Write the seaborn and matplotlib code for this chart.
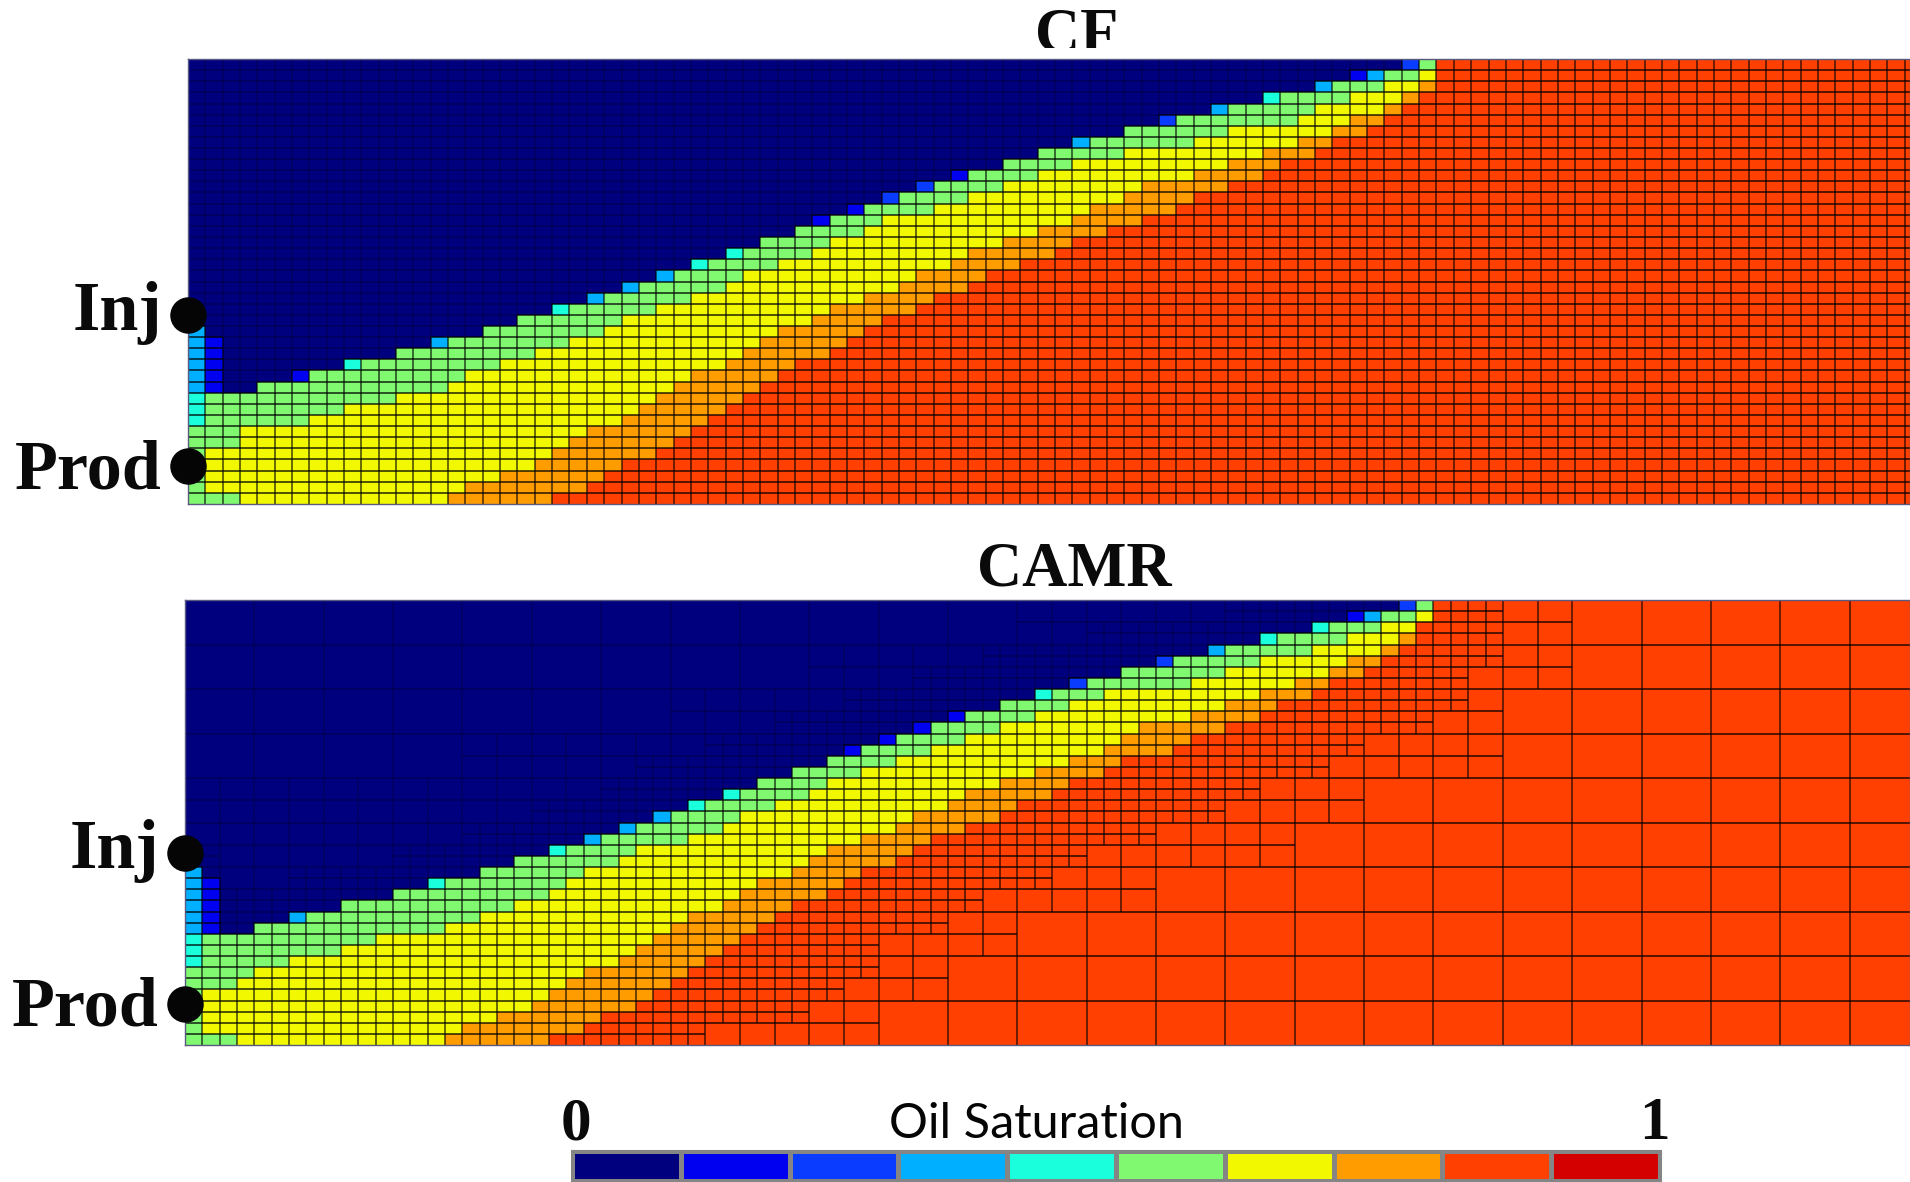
import numpy as np
import matplotlib
matplotlib.use("Agg")
import matplotlib.pyplot as plt
from matplotlib.colors import ListedColormap
from matplotlib.transforms import Bbox
import seaborn as sns

W, H = 1910, 1182
N_ROWS, N_COLS = 40, 100

LEVEL_COLORS = ["#00007F", "#0000F0", "#0A3CFF", "#00AFFF", "#1AFFDC",
                "#80F870", "#F2F800", "#FF9C00", "#FF4000", "#D40000"]

# Band tops per column (rows counted from the bottom), columns 0..71; all red beyond.
CF_GREEN = [7,10,10,10,11,11,11,12,12,12,13,13,14,14,14,15,15,16,16,17,17,17,18,18,19,19,20,20,21,21,22,22,23,24,24,25,25,26,26,27,27,28,28,29,29,30,30,31,31,32,32,32,33,33,34,34,34,35,35,35,36,36,36,37,37,37,38,38,38,39,39,40]
CF_YELLOW = [0,5,5,7,7,7,7,8,8,9,9,9,10,10,10,11,12,12,13,13,14,14,15,15,16,17,17,18,18,19,19,20,21,21,22,22,23,24,24,25,26,26,26,27,27,28,28,29,29,30,30,31,31,31,32,32,32,32,33,33,34,34,34,34,35,36,36,37,37,38,38,39]
CF_ORANGE = [0]*15 + [1,2,2,3,3,4,5,6,7,7,8,9,10,11,12,12,13,14,15,16,16,17,18,18,19,19,20,21,21,22,23,23,24,24,25,25,26,27,27,28,29,29,29,30,30,31,31,32,32,33,33,34,35,35,36,37,38]
CF_RED = [0]*21 + [1,1,2,3,4,4,5,6,7,8,9,10,11,12,13,13,14,15,16,17,17,18,19,19,20,21,21,22,22,23,24,24,25,25,26,26,27,28,28,29,29,30,31,31,32,33,33,34,35,36,37]
CF_CAPS = {6:1, 9:4, 14:3, 21:4, 23:3, 25:3, 27:3, 29:4, 31:4, 36:1, 38:1, 40:2, 42:2, 44:1,
           51:3, 56:2, 59:3, 62:4, 65:3, 67:1, 68:3, 70:2}

CAMR_GREEN = [7,10,10,10,11,11,11,12,12,13,13,13,14,14,14,15,15,16,16,17,17,17,18,18,19,19,20,20,21,21,22,22,23,24,24,25,25,26,26,27,27,28,28,29,29,30,30,31,31,31,32,32,33,33,34,34,34,35,35,35,36,36,36,37,37,37,38,38,38,39,39,40]
CAMR_YELLOW = [0,5,5,6,7,7,8,8,8,9,9,10,10,10,10,11,11,12,12,13,13,14,15,16,16,17,18,18,18,19,19,20,21,21,22,22,23,24,24,25,25,26,26,27,27,28,28,29,29,30,30,31,31,32,32,32,32,32,33,33,34,34,35,35,35,36,36,37,37,38,38,39]
CAMR_ORANGE = [0]*15 + [1,2,2,3,3,4,5,6,7,7,8,9,10,11,12,12,13,14,15,15,16,17,18,18,19,19,20,21,21,22,23,23,24,24,25,25,26,26,27,28,29,29,29,30,30,31,31,32,32,33,33,34,35,35,36,37,38]
CAMR_RED = [0]*21 + [1,1,2,3,3,4,5,6,7,8,9,10,11,12,13,13,14,15,16,16,17,18,19,19,20,20,21,22,22,23,24,24,25,26,26,26,27,28,28,29,29,30,31,31,32,33,33,34,35,36,38]
CAMR_CAPS = {6:3, 14:4, 21:4, 23:3, 25:3, 27:3, 29:4, 31:4, 38:1, 40:1, 42:1, 44:1, 49:4,
             51:2, 56:2, 59:3, 62:4, 65:4, 67:1, 68:3, 70:2}

# Cells by the wells: (column, first row, end row, level).
WELL_CELLS = [(0,7,10,4), (0,10,16,3), (1,10,15,1), (1,0,1,5), (2,0,1,5)]
CF_WELL_ROWS = {"Inj": 17.0, "Prod": 3.4}
CAMR_WELL_ROWS = {"Inj": 17.26, "Prod": 3.69}

# CAMR mesh: lowest / highest row of refinement.
MID_LO = [0]*10 + [4,8,12,12,16,16,20,24,24,32] + [40]*5
MID_HI = [24,24,24,24,28,28,28,32,32,36,36,36,40,40,40,40,40,40,40,40] + [40]*5
FINE_LO = [0]*15 + [2,2,2,4,6,10,10,12,14,14,16,18,18,20,20,22,24,24,26,28,28,30,34] + [40]*12
FINE_HI = [18,14,14,16,16,16,18,18,20,20,22,22,24,26,26,28,28,30,30,32,32,34,34,36,36,36,38,38,38,38] + [40]*20

LEGEND_LEVELS = list(range(10))
PANEL_TITLES = ["CF", "CAMR"]
LEGEND_TITLE = "Oil Saturation"
LEGEND_ENDS = ["0", "1"]

sns.set_theme(style="white")
plt.rcParams["font.family"] = ["Liberation Serif", "DejaVu Sans"]
cmap = ListedColormap(LEVEL_COLORS)
fig = plt.figure(figsize=(W / 100, H / 100), dpi=100, facecolor="white")

LABEL_DROP = {"Inj": 15, "Prod": 22}
ON_COLOUR = (0, 0, 0, 0.70)
ON_NAVY = (0, 0, 0, 0.22)


def px_axes(x0, y0, x1, y1):
    return fig.add_axes([x0 / W, 1 - y1 / H, (x1 - x0) / W, (y1 - y0) / H])


def build_field(green, yellow, orange, red, caps):
    field = np.zeros((N_ROWS, N_COLS), dtype=int)
    for col in range(N_COLS):
        if col < len(green):
            g, y, o, r = green[col], yellow[col], orange[col], red[col]
        else:
            g, y, o, r = N_ROWS, N_ROWS, N_ROWS, N_ROWS
        field[:r, col] = 8
        field[r:o, col] = 7
        field[o:y, col] = 6
        field[y:g, col] = 5
        if col in caps:
            field[g, col] = caps[col]
    for col, r0, r1, level in WELL_CELLS:
        field[r0:r1, col] = level
    return field[::-1]


def draw_panel(box, field):
    ax = px_axes(*box)
    sns.heatmap(field, ax=ax, cmap=cmap, vmin=-0.5, vmax=9.5, cbar=False,
                xticklabels=False, yticklabels=False)
    ax.set_xlim(0, (box[2] - box[0]) / 17.34)
    ax.set_ylim(N_ROWS, 0)
    for s in ax.spines.values():
        s.set_visible(True)
        s.set_color("#5a5a80")
        s.set_linewidth(1.0)
    return ax


def h_line(ax, field, i, a, b):
    """Horizontal cell border above table row i, from column a to b."""
    if i <= 0 or i >= N_ROWS:
        return
    cols = np.arange(a, b)
    navy = (field[i - 1, cols] == 0) & (field[i, cols] == 0)
    ax.hlines(np.full(len(cols), i), cols, cols + 1,
              colors=[ON_NAVY if n else ON_COLOUR for n in navy], linewidths=1.35)


def v_line(ax, field, c, r_lo, r_hi):
    """Vertical cell border at column edge c, between rows counted from the bottom."""
    if c <= 0 or c >= N_COLS:
        return
    rows = np.arange(N_ROWS - r_hi, N_ROWS - r_lo)
    navy = (field[rows, c - 1] == 0) & (field[rows, c] == 0)
    ax.vlines(np.full(len(rows), c), rows, rows + 1,
              colors=[ON_NAVY if n else ON_COLOUR for n in navy], linewidths=1.15)


def well_marks(ax, box, wells):
    for name, row in wells.items():
        ax.scatter([0], [N_ROWS - row], s=690, color="#050505", clip_on=False, zorder=6, linewidths=0)
        y_px = box[3] - row * (box[3] - box[1]) / N_ROWS
        fig.text((box[0] - 26) / W, 1 - (y_px + LABEL_DROP[name]) / H, name, ha="right", va="baseline",
                 fontsize=50.5, fontweight="bold", color="#0a0a0a")


# CF panel -----------------------------------------------------------------
cf_box = (188, 59, 1910, 504)
cf_field = build_field(CF_GREEN, CF_YELLOW, CF_ORANGE, CF_RED, CF_CAPS)
ax_cf = draw_panel(cf_box, cf_field)
for i in range(1, N_ROWS):
    h_line(ax_cf, cf_field, i, 0, N_COLS)
for c in range(1, N_COLS):
    v_line(ax_cf, cf_field, c, 0, N_ROWS)
well_marks(ax_cf, cf_box, CF_WELL_ROWS)

# CAMR panel ---------------------------------------------------------------
camr_box = (185, 600, 1910, 1045)
am_field = build_field(CAMR_GREEN, CAMR_YELLOW, CAMR_ORANGE, CAMR_RED, CAMR_CAPS)
ax_am = draw_panel(camr_box, am_field)
for r in range(4, N_ROWS, 4):
    h_line(ax_am, am_field, N_ROWS - r, 0, N_COLS)
for c in range(4, N_COLS, 4):
    v_line(ax_am, am_field, c, 0, N_ROWS)
for k, (lo, hi) in enumerate(zip(MID_LO, MID_HI)):
    if lo < hi:
        v_line(ax_am, am_field, 4 * k + 2, lo, hi)
        for r in range(2, N_ROWS, 4):
            if lo < r < hi:
                h_line(ax_am, am_field, N_ROWS - r, 4 * k, 4 * k + 4)
for j, (lo, hi) in enumerate(zip(FINE_LO, FINE_HI)):
    if lo < hi:
        v_line(ax_am, am_field, 2 * j + 1, lo, hi)
        for r in range(1, N_ROWS, 2):
            if lo < r < hi:
                h_line(ax_am, am_field, N_ROWS - r, 2 * j, 2 * j + 2)
well_marks(ax_am, camr_box, CAMR_WELL_ROWS)

# Titles --------------------------------------------------------------------
t_cf = fig.text(1077 / W, 1 - 51 / H, PANEL_TITLES[0], ha="center", va="baseline",
                fontsize=45, fontweight="bold", color="#0a0a0a")
t_cf.set_clip_box(Bbox([[0, H - 48], [W, H]]))
t_cf.set_clip_on(True)
fig.text(1074 / W, 1 - 585 / H, PANEL_TITLES[1], ha="center", va="baseline",
         fontsize=45, fontweight="bold", color="#0a0a0a")

# Legend --------------------------------------------------------------------
ax_leg = px_axes(572, 1151, 1660, 1181)
sns.heatmap(np.array([LEGEND_LEVELS]), ax=ax_leg, cmap=cmap, vmin=-0.5, vmax=9.5, cbar=False,
            xticklabels=False, yticklabels=False, linewidths=2.4, linecolor="#858585")
for s in ax_leg.spines.values():
    s.set_visible(True)
    s.set_color("#858585")
    s.set_linewidth(2.2)
fig.text(576 / W, 1 - 1139 / H, LEGEND_ENDS[0], ha="center", va="baseline",
         fontsize=44, fontweight="bold", color="#0a0a0a")
fig.text(1654 / W, 1 - 1139 / H, LEGEND_ENDS[1], ha="center", va="baseline",
         fontsize=44, fontweight="bold", color="#0a0a0a")
fig.text(1036 / W, 1 - 1138 / H, LEGEND_TITLE, ha="center", va="baseline",
         fontsize=35, family=["Lato", "DejaVu Sans"], color="#050505")

fig.savefig("out.png", dpi=100, facecolor="white")
